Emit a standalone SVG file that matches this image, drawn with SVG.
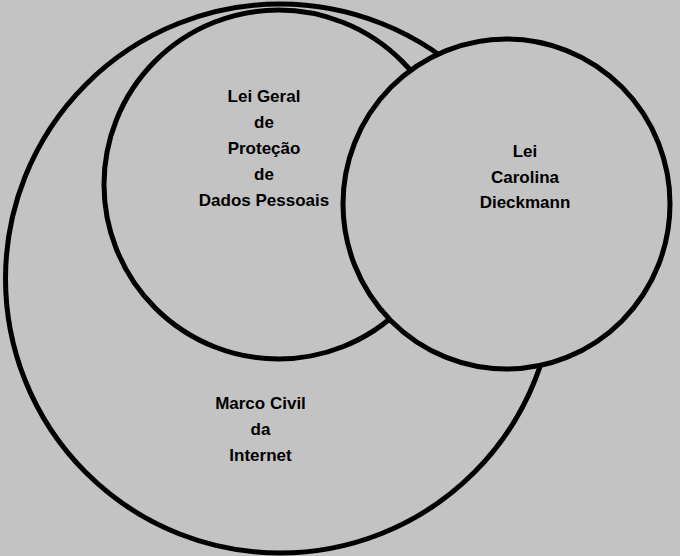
<svg xmlns="http://www.w3.org/2000/svg" width="680" height="556" viewBox="0 0 680 556">
  <style>
    .c { fill: #c3c3c3; stroke: #000; stroke-width: 5; }
    .t { font-family: "Liberation Sans", Arial, sans-serif; font-weight: bold; font-size: 17px; fill: #000; text-anchor: middle; }
  </style>
  <rect x="0" y="0" width="680" height="556" fill="#c3c3c3"/>
  <g id="marco-civil">
    <circle class="c" cx="280" cy="278.5" r="274.5"/>
    <text class="t" x="260.5" y="409">Marco Civil</text>
    <text class="t" x="260.5" y="435">da</text>
    <text class="t" x="260.5" y="461">Internet</text>
  </g>
  <g id="lgpd">
    <circle class="c" cx="278.5" cy="184.5" r="174.5"/>
    <text class="t" x="264" y="102">Lei Geral</text>
    <text class="t" x="264" y="128">de</text>
    <text class="t" x="264" y="153.5">Proteção</text>
    <text class="t" x="264" y="179.5">de</text>
    <text class="t" x="264" y="205.5">Dados Pessoais</text>
  </g>
  <g id="lei-carolina-dieckmann">
    <ellipse class="c" cx="506.5" cy="204" rx="163.5" ry="165"/>
    <text class="t" x="525" y="157">Lei</text>
    <text class="t" x="525" y="182.5">Carolina</text>
    <text class="t" x="525" y="208">Dieckmann</text>
  </g>
  <g id="connectors"/>
</svg>
